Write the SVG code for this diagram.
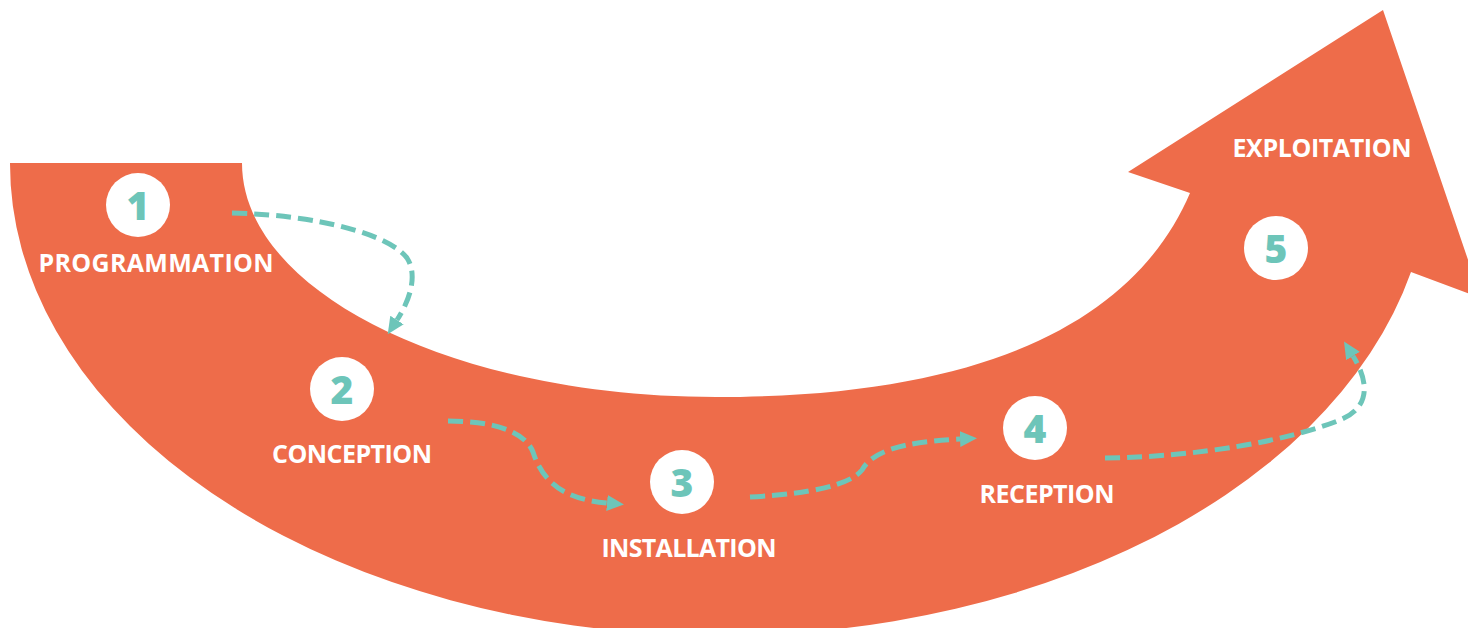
<svg xmlns="http://www.w3.org/2000/svg" width="1468" height="628" viewBox="0 0 1468 628">
<style>
.band{fill:#EE6C4A}
.node circle{fill:#FFFFFF}
.num{font-family:"Open Sans","Liberation Sans",sans-serif;font-weight:800;font-size:39px;fill:#6DC5B9;text-anchor:middle}
.lbl{font-family:"Open Sans","Liberation Sans",sans-serif;font-weight:700;font-size:25px;fill:#FFFFFF;text-anchor:middle}
.conn path{fill:none;stroke:#6DC5B9;stroke-width:5;stroke-dasharray:15 7;marker-end:url(#ah)}
</style>
<defs>
<marker id="ah" markerUnits="userSpaceOnUse" markerWidth="17" markerHeight="17" viewBox="0 0 17 17" refX="0" refY="8" orient="auto">
<path d="M0,0 L17,8 L0,16 Z" fill="#6DC5B9"/>
</marker>
</defs>
<path id="band" class="band" d="M10,163 L242,163 C242,292 454,397 716,397 C1016,397 1143,303 1190,193 L1128,172 L1383,10 L1481,298 L1411,272 A710,472 0 0 1 10,163 Z"/>
<g class="conn">
<path d="M232,213 C320,215 390,235 407,258 C418,275 410,300 397,320"/>
<path d="M448,421 C495,421 525,432 533,452 C545,490 575,500 607,503"/>
<path d="M750,497 C810,494 850,485 862,470 C872,452 900,442 960,439"/>
<path d="M1105,458 C1200,457 1290,440 1340,420 C1372,407 1368,380 1353,356"/>
</g>
<g id="n1" class="node"><circle cx="138" cy="205" r="32"/><text class="num" x="138" y="220">1</text><text class="lbl" x="156" y="272" textLength="235">PROGRAMMATION</text></g>
<g id="n2" class="node"><circle cx="342" cy="389" r="32"/><text class="num" x="342" y="404">2</text><text class="lbl" x="352" y="463" textLength="160">CONCEPTION</text></g>
<g id="n3" class="node"><circle cx="682" cy="482" r="32"/><text class="num" x="682" y="497">3</text><text class="lbl" x="689" y="557" textLength="175">INSTALLATION</text></g>
<g id="n4" class="node"><circle cx="1035" cy="428" r="32"/><text class="num" x="1035" y="443">4</text><text class="lbl" x="1047" y="503" textLength="135">RECEPTION</text></g>
<g id="n5" class="node"><circle cx="1276" cy="248" r="32"/><text class="num" x="1276" y="263">5</text><text class="lbl" x="1322" y="157" textLength="179">EXPLOITATION</text></g>
</svg>
